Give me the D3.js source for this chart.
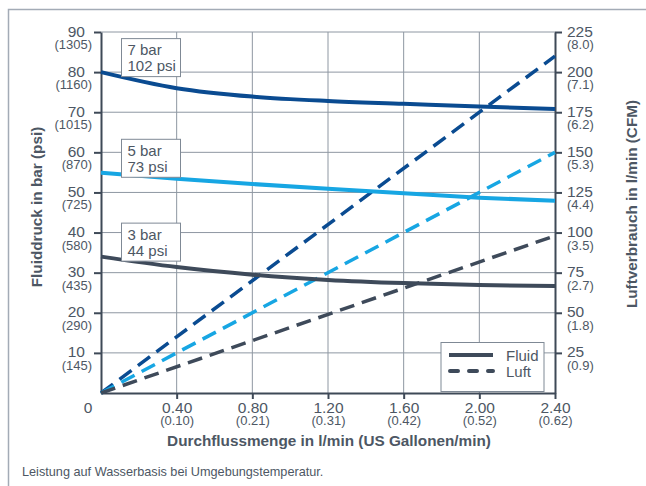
<!DOCTYPE html>
<html lang="de">
<head>
<meta charset="UTF-8">
<title>Fluiddruck und Luftverbrauch</title>
<style>
  html, body { margin: 0; background: #fff; }
  svg { display: block; }
  text { font-family: "Liberation Sans", Arial, sans-serif; fill: #4d5764; }
  .axis path, .axis line { stroke: #3e4957; stroke-width: 2; }
  .grid line { stroke: #8e97a2; stroke-width: 1; }
  .fluid { fill: none; stroke-width: 4; }
  .air { fill: none; stroke-width: 3.5; stroke-dasharray: 15 8; }
</style>
</head>
<body>
<svg width="646" height="486"></svg>
<script src="https://d3js.org/d3.v7.min.js"></script>
<script>
// flow in l/min
const flow = [0, 0.4, 0.8, 1.2, 1.6, 2.0, 2.4];
// fluid pressure (bar) at 7 / 5 / 3 bar air inlet
const fluid7 = [80, 76.0, 73.9, 72.8, 72.1, 71.4, 70.8];
const fluid5 = [54.9, 53.4, 52.1, 50.9, 49.8, 48.7, 47.9];
const fluid3 = [34.0, 31.4, 29.5, 28.2, 27.4, 26.9, 26.7];
// air consumption (l/min)
const airFlow = [0, 2.4];
const air7 = [0, 210];
const air5 = [0, 150];
const air3 = [0, 98];

const seriesNames = ["7 bar", "5 bar", "3 bar"];
const seriesPsi = ["102 psi", "73 psi", "44 psi"];
const colors = ["#0a4b91", "#17a6e3", "#3e4a5a"];

const barTicks = [10, 20, 30, 40, 50, 60, 70, 80, 90];
const psiLabels = ["145", "290", "435", "580", "725", "870", "1015", "1160", "1305"];
const lpmTicks = [25, 50, 75, 100, 125, 150, 175, 200, 225];
const cfmLabels = ["0.9", "1.8", "2.7", "3.5", "4.4", "5.3", "6.2", "7.1", "8.0"];
const flowTicks = [0.4, 0.8, 1.2, 1.6, 2.0, 2.4];
const gpmLabels = ["0.10", "0.21", "0.31", "0.42", "0.52", "0.62"];

const svg = d3.select("svg");
const plot = {left: 101, right: 555, top: 32, bottom: 393};

const x = d3.scaleLinear().domain([0, 2.4]).range([plot.left, plot.right]);
const yL = d3.scaleLinear().domain([0, 90]).range([plot.bottom, plot.top]);
const yR = d3.scaleLinear().domain([0, 225]).range([plot.bottom, plot.top]);

// outer frame (top + left)
svg.append("path")
    .attr("d", "M8.5,486 V9.5 H646")
    .attr("fill", "none")
    .attr("stroke", "#a3abb6")
    .attr("stroke-width", 1.5);

// grid
const grid = svg.append("g").attr("class", "grid");
grid.selectAll(".h").data(barTicks).join("line")
    .attr("x1", plot.left).attr("x2", plot.right)
    .attr("y1", d => yL(d)).attr("y2", d => yL(d));
grid.selectAll(".v").data(flowTicks.slice(0, -1)).join("line")
    .attr("x1", d => x(d)).attr("x2", d => x(d))
    .attr("y1", plot.top).attr("y2", plot.bottom);

// axes
const leftAxis = svg.append("g").attr("class", "axis")
    .attr("transform", "translate(" + plot.left + ",0)")
    .call(d3.axisLeft(yL).tickValues(barTicks).tickSize(7).tickSizeOuter(0).tickPadding(9));
const rightAxis = svg.append("g").attr("class", "axis")
    .attr("transform", "translate(" + plot.right + ",0)")
    .call(d3.axisRight(yR).tickValues(lpmTicks).tickSize(7).tickSizeOuter(0).tickPadding(5).tickFormat(d => d));
const bottomAxis = svg.append("g").attr("class", "axis")
    .attr("transform", "translate(0," + plot.bottom + ")")
    .call(d3.axisBottom(x).tickValues(flowTicks).tickSize(6).tickSizeOuter(0).tickFormat(d3.format(".2f")));

[leftAxis, rightAxis, bottomAxis].forEach(g => {
  g.select(".domain").attr("stroke", "#3e4957");
  g.selectAll(".tick line").attr("stroke", "#3e4957").attr("stroke-width", 1.5);
  g.selectAll(".tick text")
      .attr("font-family", "Liberation Sans, Arial, sans-serif")
      .attr("font-size", 15.5)
      .attr("fill", "#4d5764");
});

leftAxis.selectAll(".tick text").attr("dy", null).attr("y", 4);
leftAxis.selectAll(".tick").append("text")
    .attr("x", -9).attr("y", 16.5)
    .attr("text-anchor", "end")
    .attr("font-size", 13)
    .text((d, i) => "(" + psiLabels[i] + ")");

rightAxis.selectAll(".tick text").attr("dy", null).attr("y", 4);
rightAxis.selectAll(".tick").append("text")
    .attr("x", 12).attr("y", 16.5)
    .attr("text-anchor", "start")
    .attr("font-size", 13)
    .text((d, i) => "(" + cfmLabels[i] + ")");

bottomAxis.selectAll(".tick text").attr("dy", null).attr("y", 20);
bottomAxis.selectAll(".tick").append("text")
    .attr("y", 31.5)
    .attr("text-anchor", "middle")
    .attr("font-size", 13)
    .text((d, i) => "(" + gpmLabels[i] + ")");

svg.append("text")
    .attr("x", 88).attr("y", 413)
    .attr("text-anchor", "middle")
    .attr("font-size", 15.5)
    .text("0");

// air lines (dashed)
const airLine = d3.line().x(d => x(d[0])).y(d => yR(d[1]));
[air7, air5, air3].forEach((s, i) => {
  svg.append("path")
      .datum(airFlow.map((f, j) => [f, s[j]]))
      .attr("class", "air")
      .attr("stroke", colors[i])
      .attr("d", airLine);
});

// fluid lines
const fluidLine = d3.line().x(d => x(d[0])).y(d => yL(d[1])).curve(d3.curveMonotoneX);
const fluids = [fluid7, fluid5, fluid3];
fluids.forEach((s, i) => {
  svg.append("path")
      .datum(flow.map((f, j) => [f, s[j]]))
      .attr("class", "fluid")
      .attr("stroke", colors[i])
      .attr("d", fluidLine);
});

// pressure label boxes
fluids.forEach((s, i) => {
  const bottom = yL(s[0]) + 4.5;
  const g = svg.append("g").attr("transform", "translate(" + (x(0) + 20.5) + "," + (bottom - 38) + ")");
  g.append("rect")
      .attr("width", 59).attr("height", 38)
      .attr("fill", "#fff")
      .attr("stroke", "#7f8995")
      .attr("stroke-width", 1);
  g.append("text").attr("x", 6).attr("y", 16.5).attr("font-size", 15).text(seriesNames[i]);
  g.append("text").attr("x", 6).attr("y", 32.5).attr("font-size", 15).text(seriesPsi[i]);
});

// legend
const leg = svg.append("g").attr("transform", "translate(441,342.5)");
leg.append("rect")
    .attr("width", 103).attr("height", 49)
    .attr("fill", "#fff")
    .attr("stroke", "#7f8995")
    .attr("stroke-width", 1);
leg.append("line")
    .attr("x1", 8).attr("x2", 52).attr("y1", 12.5).attr("y2", 12.5)
    .attr("stroke", colors[2]).attr("stroke-width", 4);
leg.append("line")
    .attr("x1", 9).attr("x2", 52).attr("y1", 28.5).attr("y2", 28.5)
    .attr("stroke", colors[2]).attr("stroke-width", 4)
    .attr("stroke-linecap", "round")
    .attr("stroke-dasharray", "8 11");
leg.append("text").attr("x", 65).attr("y", 18).attr("font-size", 15).text("Fluid");
leg.append("text").attr("x", 65).attr("y", 34.5).attr("font-size", 15).text("Luft");

// axis titles
svg.append("text")
    .attr("transform", "translate(42,207) rotate(-90)")
    .attr("text-anchor", "middle")
    .attr("font-size", 15.3)
    .attr("font-weight", "bold")
    .text("Fluiddruck in bar (psi)");
svg.append("text")
    .attr("transform", "translate(637,204) rotate(-90)")
    .attr("text-anchor", "middle")
    .attr("font-size", 15.3)
    .attr("font-weight", "bold")
    .text("Luftverbrauch in l/min (CFM)");
svg.append("text")
    .attr("x", 329).attr("y", 446)
    .attr("text-anchor", "middle")
    .attr("font-size", 15.3)
    .attr("font-weight", "bold")
    .text("Durchflussmenge in l/min (US Gallonen/min)");

// footnote
svg.append("text")
    .attr("x", 22).attr("y", 476)
    .attr("font-size", 12.7)
    .text("Leistung auf Wasserbasis bei Umgebungstemperatur.");
</script>
</body>
</html>
